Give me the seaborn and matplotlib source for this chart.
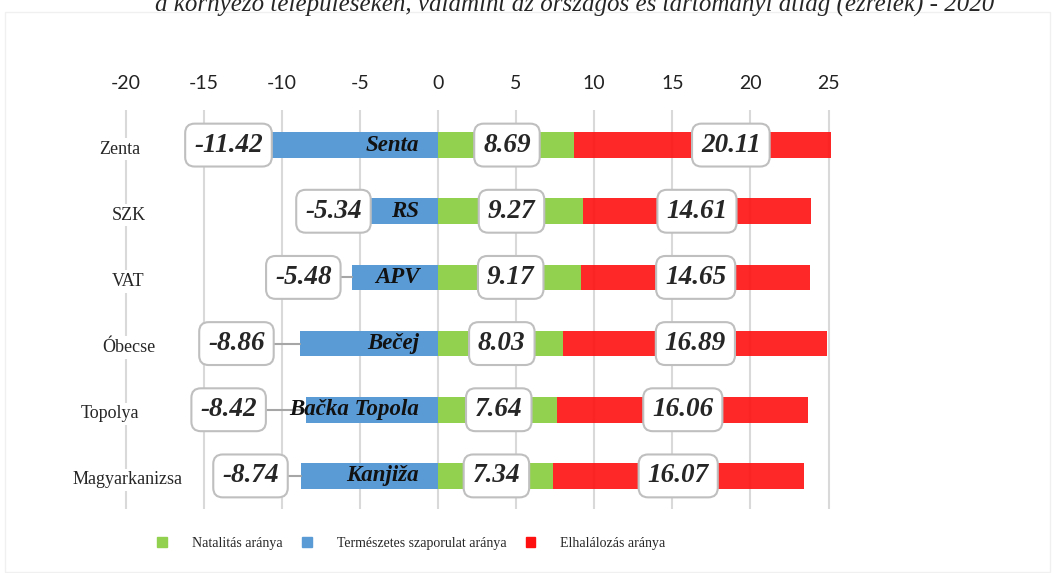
import matplotlib
matplotlib.use("Agg")
import matplotlib.pyplot as plt
import seaborn as sns
import numpy as np
import pandas as pd
from matplotlib.patches import Patch, Rectangle

# adatok (ezrelék, 2020)
hu_names = ['Zenta', 'SZK', 'VAT', 'Óbecse', 'Topolya', 'Magyarkanizsa']
sr_names = ['Senta', 'RS', 'APV', 'Bečej', 'Bačka Topola', 'Kanjiža']
natalitas = [8.69, 9.27, 9.17, 8.03, 7.64, 7.34]
elhalalozas = [20.11, 14.61, 14.65, 16.89, 16.06, 16.07]
szaporulat = [-11.42, -5.34, -5.48, -8.86, -8.42, -8.74]

# elrendezes: kezzel huzott cimkek helye
blue_label_x = [-13.41, -6.69, -8.62, -12.9, -13.4, -12.0]
name_label_x = [-20.36, -19.78, -19.84, -19.78, -21.0, -19.9]

df = pd.DataFrame({'nev': hu_names, 'sr': sr_names, 'nat': natalitas,
                   'elh': elhalalozas, 'szap': szaporulat})
df['ossz'] = df['nat'] + df['elh']

sns.set_style('white')
plt.rcParams['axes.unicode_minus'] = False

GREEN = '#92D050'
BLUE = '#5B9BD5'
RED = '#FF1010'
W = 0.39

fig = plt.figure(figsize=(10.55, 5.73), dpi=100)
ax = fig.add_axes([0.1175, 0.1117, 0.6701, 0.6963])

sns.barplot(data=df, x='ossz', y='nev', color=RED, alpha=0.9, width=W,
            saturation=1, ax=ax, zorder=2, linewidth=0)
sns.barplot(data=df, x='nat', y='nev', color=GREEN, width=W,
            saturation=1, ax=ax, zorder=3, linewidth=0)
sns.barplot(data=df, x='szap', y='nev', color=BLUE, width=W,
            saturation=1, ax=ax, zorder=3, linewidth=0)

ax.set_xlim(-20.1, 25.15)
ax.set_ylim(5.5, -0.53)
ticks = list(range(-20, 30, 5))
ax.set_xticks(ticks)
ax.set_xticklabels([str(t) for t in ticks], fontsize=14, family='Lato', color='#222222')
ax.xaxis.tick_top()
ax.tick_params(axis='x', length=0, pad=13)
ax.set_yticks([])
ax.set_xlabel('')
ax.set_ylabel('')
for s in ax.spines.values():
    s.set_visible(False)
for t in ticks:
    ax.axvline(t, color='#D9D9D9', lw=1.5, zorder=0)

box = dict(boxstyle='round,pad=0.33,rounding_size=0.35', fc='white', ec='#BFBFBF', lw=1.5)
numfont = dict(family='Liberation Serif', weight='bold', style='italic', fontsize=19.5)

for i, row in df.iterrows():
    # y cimkek
    ax.text(name_label_x[i], i + 0.06, row['nev'], ha='center', va='center',
            family='Liberation Serif', fontsize=13, zorder=4,
            bbox=dict(boxstyle='square,pad=0.15', fc='white', ec='none'))
    # szerb nevek a kek savban
    ax.text(-1.2, i, row['sr'], ha='right', va='center', family='Liberation Serif',
            weight='bold', style='italic', fontsize=16.5, color='#111111', zorder=6)
    # vezeto vonal
    ax.plot([blue_label_x[i], row['szap']], [i, i], color='#A6A6A6', lw=1.5, zorder=4)
    ax.text(blue_label_x[i], i, '%.2f' % row['szap'], ha='center', va='center',
            bbox=box, zorder=7, **numfont)
    ax.text(row['nat'] / 2 + 0.07, i, '%.2f' % row['nat'], ha='center', va='center',
            bbox=box, zorder=7, **numfont)
    ax.text(row['nat'] + row['elh'] / 2, i, '%.2f' % row['elh'], ha='center', va='center',
            bbox=box, zorder=7, **numfont)

handles = [Patch(color=GREEN, label='Natalitás aránya'),
           Patch(color=BLUE, label='Természetes szaporulat aránya'),
           Patch(color=RED, label='Elhalálozás aránya')]
leg = fig.legend(handles=handles, loc='center', bbox_to_anchor=(0.39, 0.052), ncol=3,
                 frameon=False, handlelength=0.7, handleheight=0.7, handletextpad=1.8,
                 columnspacing=1.4, prop={'family': 'Liberation Serif', 'size': 10})

fig.text(0.545, 1 - 11 / 573, 'a környező településeken, valamint az országos és tartományi átlag (ezrelék) - 2020',
         ha='center', va='baseline', family='Liberation Serif', style='italic', fontsize=18)

fig.patches.append(Rectangle((5 / 1055, 1 / 573), 1045 / 1055, 560 / 573, transform=fig.transFigure,
                             fill=False, ec='#F0F0F0', lw=1))

fig.savefig('out.png', dpi=100)
